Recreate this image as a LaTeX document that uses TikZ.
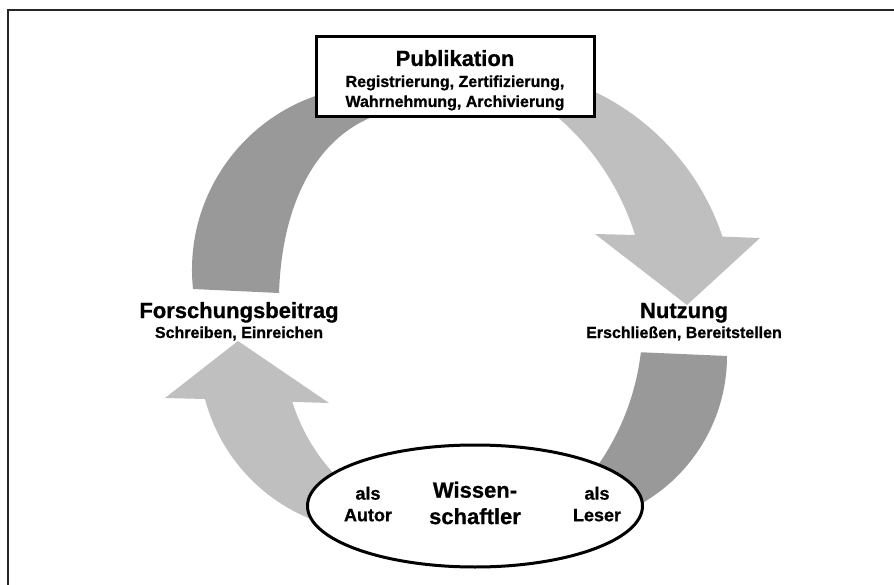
\documentclass[tikz,border=0pt]{standalone}
\usepackage{fontspec}
\setmainfont{Liberation Sans}[BoldFeatures={FakeBold=0.8}]
\usetikzlibrary{shapes.geometric}

\begin{document}
\begin{tikzpicture}[x=1pt, y=-1pt,
        darkarrow/.style={fill=black!40},
        lightarrow/.style={fill=black!25},
        headtext/.style={font=\bfseries\fontsize{22}{26.4}\selectfont, anchor=base},
        subtext/.style={font=\bfseries\fontsize{16}{19}\selectfont, anchor=base}]
                \useasboundingbox (0,0) rectangle (894,585);
                \draw[line width=1.5pt, black!85] (894,10) -- (8,10) -- (8,585);

                \fill[darkarrow] (193,289) arc[start angle=174, end angle=262, radius=184] -- (420,100) -- (372,117)
                    .. controls (316,140) and (282,203) .. (279,293) -- cycle;
                \fill[lightarrow] (552,76) arc[start angle=285, end angle=341.6, radius=247]
                    -- (760,238) -- (687,305) -- (595,234)
                    -- (635,235) arc[start angle=342.7, end angle=300, radius=256] -- cycle;
                \fill[darkarrow] (727,356) arc[start angle=0, end angle=66, radius=170]
                    -- (590,476) arc[start angle=38, end angle=6.7, radius=248] -- cycle;
                \fill[lightarrow] (205,399) arc[start angle=165.3, end angle=105, radius=178]
                    -- (351,490) arc[start angle=130, end angle=162.7, radius=188]
                    -- (329,403) -- (238,341) -- (165,398) -- cycle;

                \node (pub) [draw, line width=3pt, fill=white, minimum width=278, minimum height=80] at (455,77) {};
                \node[headtext] (pubtitle) at (455,66) {Publikation};
                \node[subtext] (publine1) at (455,87) {Registrierung, Zertifizierung,};
                \node[subtext] (publine2) at (455,107) {Wahrnehmung, Archivierung};

                \node[headtext] (forsch) at (239,318) {Forschungsbeitrag};
                \node[subtext] (forschsub) at (239,338) {Schreiben, Einreichen};
                \node[headtext] (nutz) at (684,318) {Nutzung};
                \node[subtext] (nutzsub) at (684,338) {Erschließen, Bereitstellen};

                \node (wiss) [ellipse, draw, line width=3pt, fill=white, minimum width=335, minimum height=122, inner sep=0] at (475,506) {};
                \node (autor) [font=\bfseries\fontsize{18}{21.6}\selectfont, align=center] at (368,504) {als\\Autor};
                \node (wisstext) [font=\bfseries\fontsize{22}{26.4}\selectfont, align=center] at (475,503) {Wissen-\\schaftler};
                \node (leser) [font=\bfseries\fontsize{18}{21.6}\selectfont, align=center] at (597,504) {als\\Leser};
            \end{tikzpicture}
\end{document}
